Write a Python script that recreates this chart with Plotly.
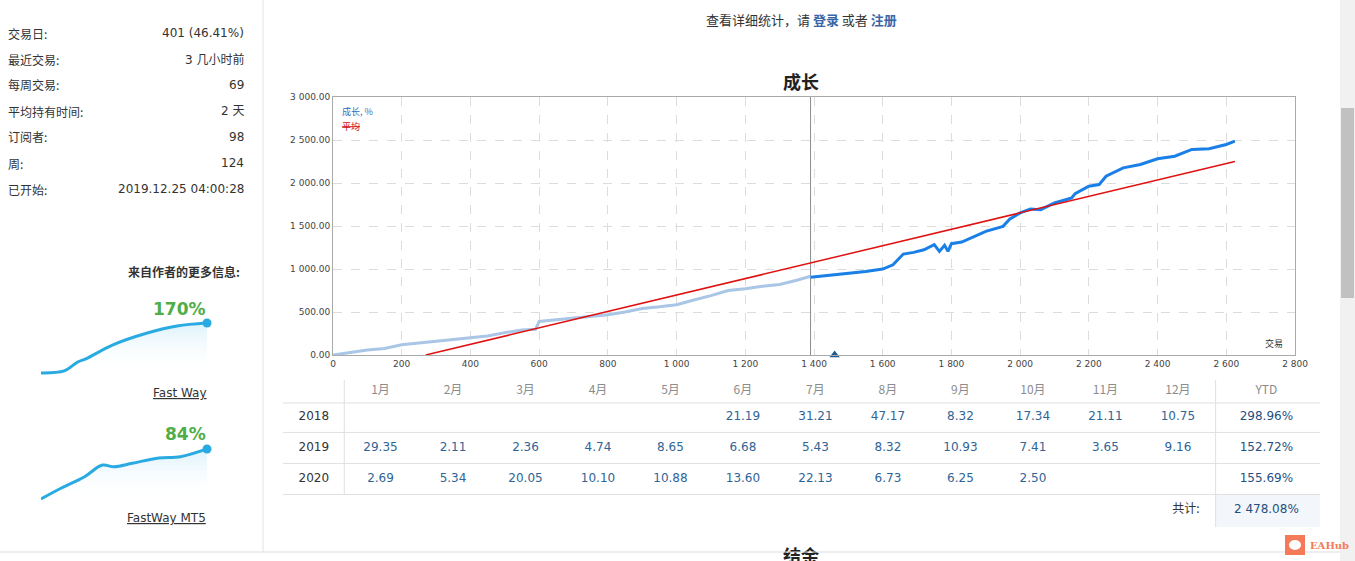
import plotly.graph_objects as go

W, H = 1355, 561

# --- main growth chart data ---
trades_light = [0, 30, 60, 100, 150, 180, 200, 250, 300, 350, 400, 450, 500, 550, 590, 600, 650,
                700, 750, 800, 850, 900, 950, 1000, 1050, 1100, 1150, 1200, 1250, 1300, 1350, 1390]
growth_light = [0, 20, 35, 58, 75, 100, 120, 140, 160, 180, 205, 220, 260, 290, 300, 390, 410,
                430, 450, 468, 500, 540, 560, 585, 640, 690, 750, 770, 800, 820, 870, 915]
trades_dark = [1390, 1430, 1460, 1500, 1550, 1600, 1630, 1660, 1690, 1720, 1750, 1765, 1780, 1790,
               1800, 1830, 1870, 1900, 1950, 1970, 2000, 2030, 2060, 2100, 2150, 2160, 2200, 2230,
               2250, 2300, 2350, 2400, 2450, 2500, 2550, 2600, 2625]
growth_dark = [905, 920, 933, 952, 972, 999, 1049, 1174, 1193, 1224, 1283, 1205, 1275, 1205,
               1294, 1314, 1380, 1438, 1496, 1582, 1652, 1698, 1690, 1768, 1827, 1877, 1963, 1982,
               2079, 2176, 2215, 2281, 2312, 2390, 2398, 2448, 2487]
avg_x = [270, 2625]
avg_y = [0, 2250]
split_trade = 1390
marker_trade = 1460

# --- monthly table ---
months = ["1月", "2月", "3月", "4月", "5月", "6月", "7月", "8月", "9月", "10月", "11月", "12月"]
years = ["2018", "2019", "2020"]
m2018 = [None, None, None, None, None, 21.19, 31.21, 47.17, 8.32, 17.34, 21.11, 10.75]
m2019 = [29.35, 2.11, 2.36, 4.74, 8.65, 6.68, 5.43, 8.32, 10.93, 7.41, 3.65, 9.16]
m2020 = [2.69, 5.34, 20.05, 10.10, 10.88, 13.60, 22.13, 6.73, 6.25, 2.50, None, None]
ytd = [298.96, 152.72, 155.69]
total = 2478.08

# --- left panel ---
stat_labels = ["交易日:", "最近交易:", "每周交易:", "平均持有时间:", "订阅者:", "周:", "已开始:"]
stat_values = ["401 (46.41%)", "3 几小时前", "69", "2 天", "98", "124", "2019.12.25 04:00:28"]

spark1_x = [0, 14, 22, 27, 43, 64, 82, 100]
spark1_y = [0, 7, 37, 48, 95, 136, 160, 170]
spark2_x = [0, 12, 26, 37, 44, 55, 71, 84, 100]
spark2_y = [0, 18, 37, 57, 54, 60, 69, 71, 84]
spark_names = ["Fast Way", "FastWay MT5"]
spark_gains = ["170%", "84%"]


def px(x):
    return x / W


def py(y):
    return 1 - y / H


CJK = "Noto Sans CJK SC, DejaVu Sans, sans-serif"
NUM = "DejaVu Sans, Noto Sans CJK SC, sans-serif"

fig = go.Figure()

# growth chart
fig.add_trace(go.Scatter(x=[split_trade, split_trade], y=[0, 3000], mode="lines",
                         line=dict(color="#8c8c8c", width=1), xaxis="x", yaxis="y", hoverinfo="skip"))
fig.add_trace(go.Scatter(x=trades_light, y=growth_light, mode="lines",
                         line=dict(color="#a9c6e6", width=3), xaxis="x", yaxis="y"))
fig.add_trace(go.Scatter(x=trades_dark, y=growth_dark, mode="lines",
                         line=dict(color="#1a7fe6", width=3), xaxis="x", yaxis="y"))
fig.add_trace(go.Scatter(x=avg_x, y=avg_y, mode="lines",
                         line=dict(color="#e01010", width=1.5), xaxis="x", yaxis="y"))
fig.add_trace(go.Scatter(x=[marker_trade], y=[0], mode="markers", cliponaxis=False,
                         marker=dict(symbol="triangle-up", size=9, color="#1f5a94"),
                         xaxis="x", yaxis="y"))

# sparklines
for i, (sx, sy) in enumerate([(spark1_x, spark1_y), (spark2_x, spark2_y)]):
    xa, ya = "x%d" % (i + 2), "y%d" % (i + 2)
    fig.add_trace(go.Scatter(x=sx, y=sy, mode="lines", line=dict(color="#29abe2", width=3, shape="spline"),
                             fill="tozeroy",
                             fillgradient=dict(type="vertical",
                                               colorscale=[[0, "rgba(255,255,255,0)"],
                                                           [1, "rgba(41,171,226,0.16)"]]),
                             xaxis=xa, yaxis=ya, hoverinfo="skip"))
    fig.add_trace(go.Scatter(x=[sx[-1]], y=[sy[-1]], mode="markers", cliponaxis=False,
                             marker=dict(size=9, color="#29abe2"), xaxis=xa, yaxis=ya))

# table as text on a hidden axis
rows = [m2018, m2019, m2020]
fig.add_trace(go.Scatter(x=list(range(1, 13)) + [13.22], y=[0.16] * 13, mode="text",
                         text=months + ["YTD"], textfont=dict(family=CJK, size=12, color="#8c8c8c"),
                         xaxis="x4", yaxis="y4", hoverinfo="skip"))
fig.add_trace(go.Scatter(x=[0.08] * 3, y=[1, 2, 3], mode="text", text=years,
                         textfont=dict(family=NUM, size=12, color="#333333"),
                         xaxis="x4", yaxis="y4", hoverinfo="skip"))
cx, cy, ct = [], [], []
for r, vals in enumerate(rows):
    for c, v in enumerate(vals):
        if v is not None:
            cx.append(c + 1)
            cy.append(r + 1)
            ct.append("%.2f" % v)
fig.add_trace(go.Scatter(x=cx, y=cy, mode="text", text=ct,
                         textfont=dict(family=NUM, size=12, color="#2f6496"),
                         xaxis="x4", yaxis="y4", hoverinfo="skip"))
fig.add_trace(go.Scatter(x=[13.22] * 4, y=[1, 2, 3, 4], mode="text",
                         text=["%.2f%%" % v for v in ytd] + [("{:,.2f}%".format(total)).replace(",", " ")],
                         textfont=dict(family=NUM, size=12, color="#1f4f82"),
                         xaxis="x4", yaxis="y4", hoverinfo="skip"))
fig.add_trace(go.Scatter(x=[12.3], y=[4], mode="text", text=["共计:"], textposition="middle left",
                         textfont=dict(family=CJK, size=12, color="#333333"),
                         xaxis="x4", yaxis="y4", hoverinfo="skip"))

# next section heading, cut by the bottom of the page
fig.add_trace(go.Scatter(x=[0.5], y=[0.14], mode="text", text=["<b>结余</b>"], cliponaxis=True,
                         textfont=dict(family=CJK, size=18, color="#222222"),
                         xaxis="x5", yaxis="y5", hoverinfo="skip"))

shapes = []
T_L, T_R, T_TOP, T_BOT = -0.345, 13.96, -0.19, 4.55
shapes.append(dict(type="rect", xref="x4", yref="y4", x0=12.52, x1=T_R, y0=3.5, y1=T_BOT,
                   fillcolor="#f3f6fa", line=dict(width=0), layer="below"))
for yy in [0.55, 1.5, 2.5, 3.5]:
    shapes.append(dict(type="line", xref="x4", yref="y4", x0=T_L, x1=T_R, y0=yy, y1=yy,
                       line=dict(color="#e0e0e0", width=1)))
shapes.append(dict(type="line", xref="x4", yref="y4", x0=0.5, x1=0.5, y0=T_TOP, y1=3.5,
                   line=dict(color="#e0e0e0", width=1)))
shapes.append(dict(type="line", xref="x4", yref="y4", x0=12.52, x1=12.52, y0=T_TOP, y1=T_BOT,
                   line=dict(color="#e0e0e0", width=1)))
# page furniture
shapes.append(dict(type="line", xref="paper", yref="paper", x0=px(263), x1=px(263), y0=py(552), y1=1,
                   line=dict(color="#e2e2e2", width=1)))
shapes.append(dict(type="line", xref="paper", yref="paper", x0=0, x1=px(1340), y0=py(552), y1=py(552),
                   line=dict(color="#dddddd", width=1)))
shapes.append(dict(type="rect", xref="paper", yref="paper", x0=px(1340), x1=1, y0=0, y1=1,
                   fillcolor="#f1f1f1", line=dict(width=0)))
shapes.append(dict(type="rect", xref="paper", yref="paper", x0=px(1341), x1=px(1354), y0=py(298), y1=py(108),
                   fillcolor="#c1c1c1", line=dict(width=0)))
shapes.append(dict(type="rect", xref="paper", yref="paper", x0=px(1285), x1=px(1305), y0=py(555), y1=py(535),
                   fillcolor="#f47a5a", line=dict(width=0)))
shapes.append(dict(type="circle", xref="paper", yref="paper", x0=px(1289), x1=px(1301), y0=py(550), y1=py(540),
                   fillcolor="white", line=dict(width=0)))

P = dict(xref="paper", yref="paper", showarrow=False, yanchor="middle")
ann = []
for i, (lab, val) in enumerate(zip(stat_labels, stat_values)):
    yy = py(33 + 26 * i)
    ann.append(dict(P, x=px(6), y=yy, text=lab, xanchor="left",
                    font=dict(family=CJK, size=12, color="#333333")))
    ann.append(dict(P, x=px(246), y=yy, text=val, xanchor="right",
                    font=dict(family=NUM, size=12, color="#333333")))
ann.append(dict(P, x=px(126), y=py(271), text="<b>来自作者的更多信息:</b>",
                font=dict(family=CJK, size=12, color="#333333")))
for i, (nm, gain) in enumerate(zip(spark_names, spark_gains)):
    off = 125 * i
    ann.append(dict(P, x=px(208), y=py(309 + off), text="<b>%s</b>" % gain, xanchor="right",
                    font=dict(family=NUM, size=17, color="#4fae4a")))
    ann.append(dict(P, x=px(208), y=py(393 + off), text="<u>%s</u>" % nm, xanchor="right",
                    font=dict(family=NUM, size=12, color="#333333")))
ann.append(dict(P, x=px(801), y=py(20),
                text="查看详细统计，请 <span style='color:#3a66a8'><b>登录</b></span> 或者 "
                     "<span style='color:#3a66a8'><b>注册</b></span>",
                font=dict(family=CJK, size=13, color="#333333")))
ann.append(dict(P, x=px(801), y=py(81), text="<b>成长</b>",
                font=dict(family=CJK, size=18, color="#222222")))
ann.append(dict(x=0.007, y=0.975, xref="x domain", yref="y domain", text="成长, %", xanchor="left",
                yanchor="top", showarrow=False, font=dict(family=CJK, size=9, color="#2e6fc0")))
ann.append(dict(x=0.007, y=0.92, xref="x domain", yref="y domain", text="<s>平均</s>", xanchor="left",
                yanchor="top", showarrow=False, font=dict(family=CJK, size=9, color="#d01010")))
ann.append(dict(x=0.99, y=0.01, xref="x domain", yref="y domain", text="交易", xanchor="right",
                yanchor="bottom", showarrow=False, font=dict(family=CJK, size=9, color="#333333")))
ann.append(dict(P, x=px(1308), y=py(545), text="<b>EAHub</b>", xanchor="left",
                font=dict(family="DejaVu Serif, serif", size=10, color="#f47a5a")))

hidden = dict(visible=False, showgrid=False, zeroline=False, fixedrange=True, automargin=False)

fig.update_layout(
    width=W, height=H, margin=dict(l=0, r=0, t=0, b=0, autoexpand=False),
    paper_bgcolor="white", plot_bgcolor="white", showlegend=False,
    separators=". ", font=dict(family=NUM, color="#333333"),
    shapes=shapes, annotations=ann,
    xaxis=dict(domain=[px(333), px(1295)], range=[0, 2800], tickvals=list(range(0, 2801, 200)),
               tickformat=",d", showline=True, mirror=True, linecolor="#aaaaaa", gridcolor="#dcdcdc",
               griddash="dash", zeroline=False, ticks="", automargin=False,
               tickfont=dict(size=9, color="#444444")),
    yaxis=dict(domain=[py(355), py(97)], range=[0, 3000], tickvals=list(range(0, 3001, 500)),
               tickformat=",.2f", showline=True, mirror=True, linecolor="#aaaaaa", gridcolor="#dcdcdc",
               griddash="dash", zeroline=False, ticks="", automargin=False,
               tickfont=dict(size=9, color="#444444")),
    xaxis2=dict(hidden, domain=[px(41), px(207)], range=[0, 100]),
    yaxis2=dict(hidden, domain=[py(378), py(318)], range=[-17, 187]),
    xaxis3=dict(hidden, domain=[px(41), px(207)], range=[0, 100]),
    yaxis3=dict(hidden, domain=[py(503), py(443)], range=[-6.7, 94]),
    xaxis4=dict(hidden, domain=[px(283), px(1320)], range=[T_L, T_R]),
    yaxis4=dict(hidden, domain=[py(527), py(380)], range=[T_BOT, T_TOP]),
    xaxis5=dict(hidden, domain=[px(750), px(852)], range=[0, 1]),
    yaxis5=dict(hidden, domain=[0, py(540)], range=[0, 1]),
)

fig.write_html("out.html", config={"displayModeBar": False},
               post_script="document.body.style.margin='0';document.body.style.overflow='hidden';")
